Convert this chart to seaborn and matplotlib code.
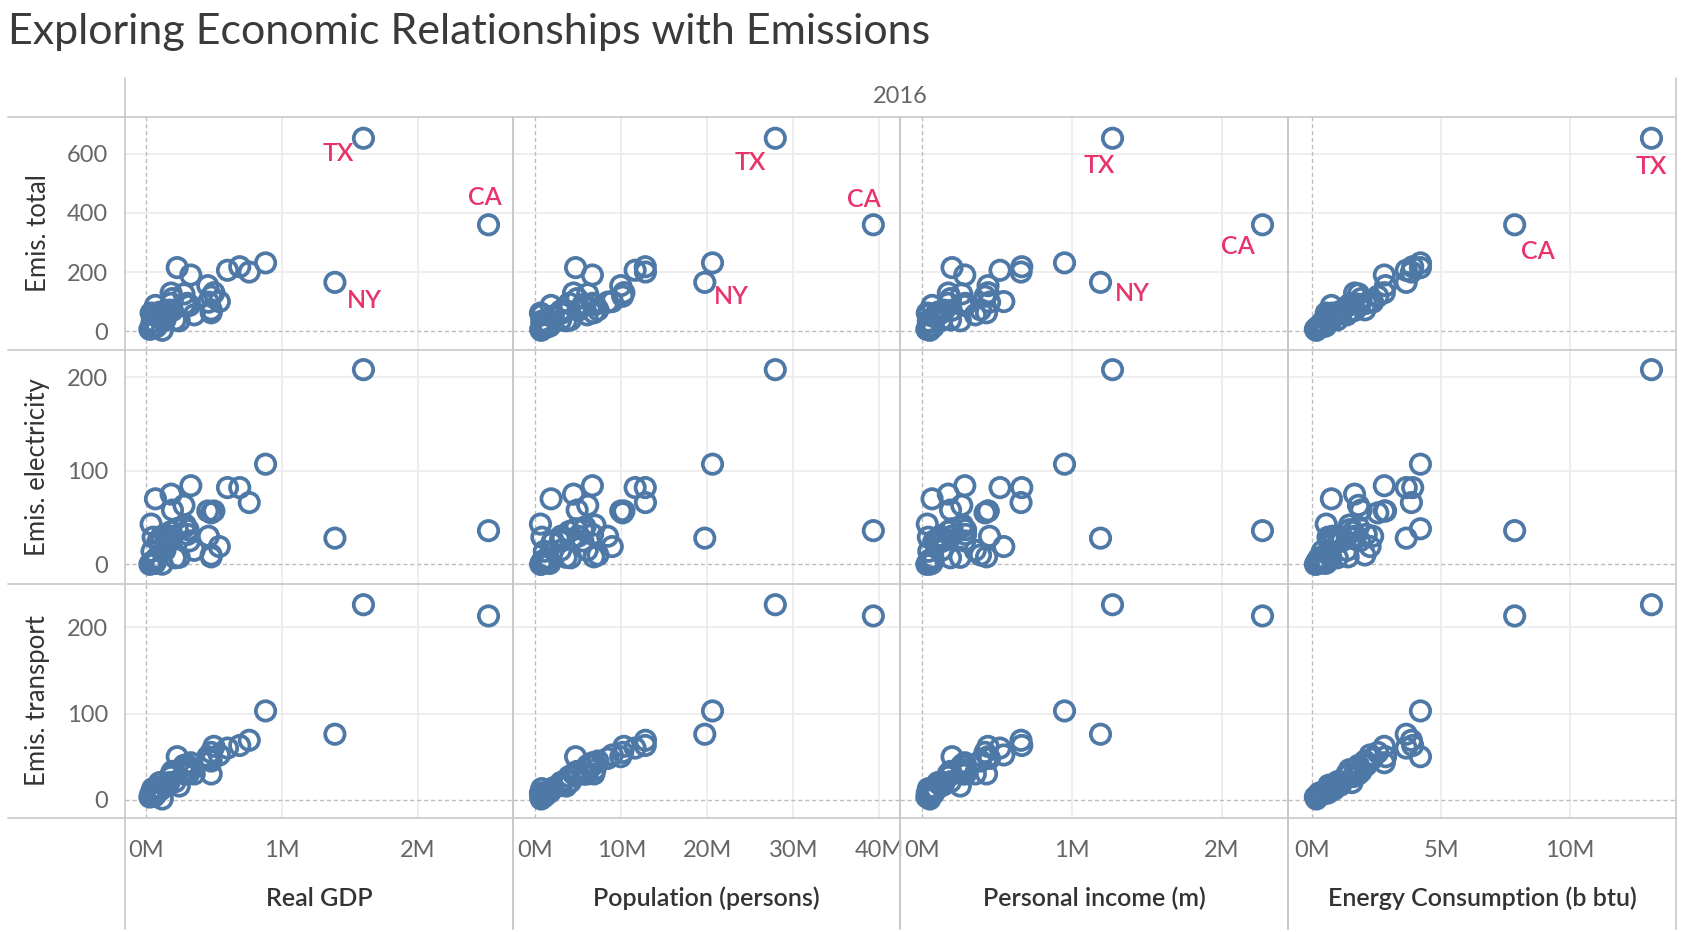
import numpy as np
import pandas as pd
import matplotlib
matplotlib.use("Agg")
import matplotlib.pyplot as plt
import seaborn as sns
from matplotlib.lines import Line2D

# State data, 2016 (values read off the chart / estimated)
states = ["AL", "AK", "AZ", "AR", "CA", "CO", "CT", "DE", "DC", "FL", "GA", "HI", "ID",
          "IL", "IN", "IA", "KS", "KY", "LA", "ME", "MD", "MA", "MI", "MN", "MS", "MO",
          "MT", "NE", "NV", "NH", "NJ", "NM", "NY", "NC", "ND", "OH", "OK", "OR", "PA",
          "RI", "SC", "SD", "TN", "TX", "UT", "VT", "VA", "WA", "WV", "WI", "WY"]
real_gdp_bn = [195, 50, 290, 115, 2520, 310, 245, 63, 120, 880, 500, 80, 65,
               760, 330, 170, 150, 185, 230, 55, 355, 480, 455, 320, 100, 280,
               45, 110, 140, 75, 540, 90, 1390, 480, 53, 600, 185, 215, 690,
               53, 195, 47, 305, 1600, 150, 29, 460, 480, 70, 285, 38]
population_m = [4.86, 0.74, 6.93, 2.99, 39.3, 5.54, 3.58, 0.95, 0.68, 20.6, 10.3, 1.43, 1.68,
                12.8, 6.63, 3.13, 2.91, 4.44, 4.68, 1.33, 6.02, 6.81, 9.93, 5.52, 2.99, 6.09,
                1.04, 1.91, 2.94, 1.34, 8.94, 2.08, 19.7, 10.15, 0.76, 11.6, 3.92, 4.09, 12.78,
                1.06, 4.96, 0.86, 6.65, 27.9, 3.05, 0.62, 8.41, 7.28, 1.83, 5.78, 0.59]
income_bn = [190, 42, 270, 120, 2270, 290, 255, 45, 52, 950, 440, 72, 65,
             660, 285, 145, 140, 175, 200, 60, 355, 430, 440, 285, 105, 265,
             45, 95, 130, 75, 545, 80, 1190, 420, 42, 520, 175, 190, 665,
             55, 195, 42, 290, 1270, 125, 32, 450, 390, 67, 270, 35]
energy_tbtu = [1900, 600, 1450, 1050, 7850, 1450, 730, 270, 170, 4200, 2800, 280, 530,
               3850, 2800, 1550, 1100, 1650, 4200, 400, 1350, 1400, 2850, 1850, 1150, 1800,
               400, 850, 650, 300, 2250, 670, 3650, 2550, 620, 3650, 1600, 980, 3900,
               190, 1650, 380, 2100, 13150, 800, 130, 2350, 2050, 750, 1800, 550]
emis_total = [110, 34, 90, 63, 360, 89, 35, 13, 2.7, 231, 130, 18, 17,
              200, 190, 71, 67, 129, 215, 15, 55, 62, 154, 87, 64, 126,
              30, 50, 37, 14, 100, 49, 165, 118, 55, 206, 94, 38, 218,
              11, 70, 15, 94, 653, 61, 6, 98, 72, 87, 91, 61]
emis_electricity = [58, 2.5, 42, 30, 36, 37, 7.5, 4, 0.2, 107, 57, 7, 1,
                    66, 84, 28, 25, 75, 38, 1.5, 15, 8, 57, 25, 25, 63,
                    14, 23, 15, 4, 19, 25, 28, 55, 29, 82, 35, 7, 82,
                    3, 30, 2.5, 32, 208, 30, 0.0, 30, 10, 70, 40, 43]
emis_transport = [33, 13, 35, 20, 213, 30, 16, 4.5, 1, 103, 62, 8, 9,
                  69, 43, 20, 17, 30, 50, 8, 30, 30, 50, 32, 20, 40,
                  7, 12, 17, 7, 52, 14, 76, 55, 8, 60, 27, 21, 63,
                  4, 30, 6, 40, 226, 17, 3.3, 48, 45, 11, 30, 8]

x_cols = ["Real GDP", "Population (persons)", "Personal income (m)", "Energy Consumption (b btu)"]
y_cols = ["Emis. total", "Emis. electricity", "Emis. transport"]

df = pd.DataFrame({
    "state": states,
    "Real GDP": np.array(real_gdp_bn) * 1e3,
    "Population (persons)": np.array(population_m) * 1e6,
    "Personal income (m)": np.array(income_bn) * 1e3,
    "Energy Consumption (b btu)": np.array(energy_tbtu) * 1e3,
    "Emis. total": emis_total,
    "Emis. electricity": emis_electricity,
    "Emis. transport": emis_transport,
})

sns.set_theme(style="white")
plt.rcParams["font.family"] = ["Lato", "DejaVu Sans"]

BLUE = "#4E79A7"
PINK = "#E8336B"
DIVIDER = "#C8C8C8"
GRID = "#EDEDED"

W, H = 1688, 932
fig = plt.figure(figsize=(W / 100, H / 100), dpi=100)
fig.patch.set_facecolor("white")

col_edges = [125, 513, 900, 1288, 1676]
row_edges = [117, 350, 584, 818]
x_lims = [(-0.154e6, 2.70e6), (-2.6e6, 42.4e6), (-0.147e6, 2.44e6), (-0.93e6, 14.1e6)]
x_ticks = [[0, 1e6, 2e6], [0, 10e6, 20e6, 30e6, 40e6], [0, 1e6, 2e6], [0, 5e6, 10e6]]
y_lims = [(-64, 725), (-21, 229), (-21, 250)]
y_ticks = [[0, 200, 400, 600], [0, 100, 200], [0, 100, 200]]

# label offsets in pixels (dx, dy down) for the highlighted states, top row only
label_offsets = [
    {"TX": (-25, 15), "CA": (-4, -27), "NY": (29, 18)},
    {"TX": (-25, 24), "CA": (-9, -25), "NY": (27, 14)},
    {"TX": (-13, 27), "CA": (-25, 22), "NY": (32, 11)},
    {"TX": (0, 28), "CA": (23, 27)},
]


def px_axes(x0, y0, x1, y1):
    return fig.add_axes([x0 / W, 1 - y1 / H, (x1 - x0) / W, (y1 - y0) / H])


for r, ycol in enumerate(y_cols):
    for c, xcol in enumerate(x_cols):
        ax = px_axes(col_edges[c], row_edges[r], col_edges[c + 1], row_edges[r + 1])
        ax.set_facecolor("white")
        for sp in ax.spines.values():
            sp.set_visible(False)

        for t in x_ticks[c]:
            if t == 0:
                ax.axvline(0, color="#BDBDBD", lw=1.0, ls=(0, (3, 2)), zorder=1)
            else:
                ax.axvline(t, color=GRID, lw=1.3, zorder=0)
        for t in y_ticks[r]:
            if t == 0:
                ax.axhline(0, color="#BDBDBD", lw=1.0, ls=(0, (3, 2)), zorder=1)
            else:
                ax.axhline(t, color=GRID, lw=1.3, zorder=0)

        sns.scatterplot(data=df, x=xcol, y=ycol, ax=ax, s=195, marker="o",
                        facecolor="none", edgecolor=BLUE, linewidth=2.7,
                        legend=False, zorder=3)
        ax.collections[-1].set_facecolor("none")

        ax.set_xlim(*x_lims[c])
        ax.set_ylim(*y_lims[r])
        ax.set_xticks(x_ticks[c])
        ax.set_yticks(y_ticks[r])
        ax.set_xticklabels([f"{t / 1e6:g}M" for t in x_ticks[c]])
        ax.set_yticklabels([f"{t:g}" for t in y_ticks[r]])
        ax.set_xlabel("")
        ax.set_ylabel("")
        ax.tick_params(length=0, labelsize=17, labelcolor="#666666", pad=12)
        ax.tick_params(axis="x", pad=16)
        if c > 0:
            ax.tick_params(labelleft=False)
        if r < len(y_cols) - 1:
            ax.tick_params(labelbottom=False)

        if r == 0:
            for st, (dx, dy) in label_offsets[c].items():
                row = df[df["state"] == st].iloc[0]
                ax.annotate(st, (row[xcol], row[ycol]), xytext=(dx, -dy),
                            textcoords="offset pixels", ha="center", va="center",
                            color=PINK, fontsize=18, fontweight="semibold", zorder=4)

# row titles
for r, ycol in enumerate(y_cols):
    yc = (row_edges[r] + row_edges[r + 1]) / 2
    fig.text(38 / W, 1 - yc / H, ycol, rotation=90, ha="center", va="center",
             fontsize=18.5, color="#333333")

# column titles
for c, xcol in enumerate(x_cols):
    xc = (col_edges[c] + col_edges[c + 1]) / 2
    fig.text(xc / W, 1 - 898 / H, xcol, ha="center", va="center",
             fontsize=18, color="#333333", fontweight="semibold")

fig.text(900 / W, 1 - 97 / H, "2016", ha="center", va="center", fontsize=17, color="#666666")
fig.text(8 / W, 1 - 32 / H, "Exploring Economic Relationships with Emissions",
         ha="left", va="center", fontsize=31, color="#3A3A3A", fontweight="normal")


def fig_line(x0, y0, x1, y1, lw=1.2):
    fig.add_artist(Line2D([x0 / W, x1 / W], [1 - y0 / H, 1 - y1 / H],
                          color=DIVIDER, lw=lw, transform=fig.transFigure, zorder=5))


for y in [117, 350, 584, 818]:
    fig_line(8, y, 1676, y)
fig_line(125, 78, 125, 929)
fig_line(1676, 78, 1676, 929)
for x in col_edges[1:-1]:
    fig_line(x, 117, x, 929, lw=1.4)

fig.savefig("out.png", dpi=100, facecolor="white")
